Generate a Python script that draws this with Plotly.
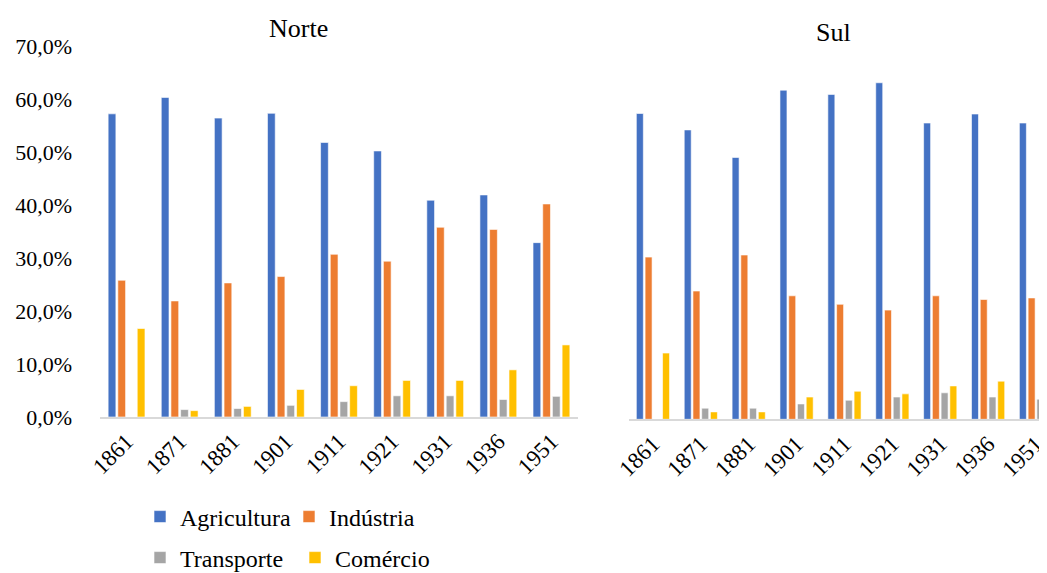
import plotly.graph_objects as go

anos = ["1861", "1871", "1881", "1901", "1911", "1921", "1931", "1936", "1951"]

norte_agricultura = [57.2, 60.3, 56.4, 57.3, 51.8, 50.2, 40.9, 41.9, 32.9]
norte_industria = [25.8, 21.9, 25.3, 26.5, 30.7, 29.4, 35.8, 35.4, 40.2]
norte_transporte = [None, 1.4, 1.6, 2.2, 2.9, 4.0, 4.0, 3.3, 3.9]
norte_comercio = [16.7, 1.2, 2.0, 5.2, 5.9, 6.9, 6.9, 8.9, 13.6]

sul_agricultura = [57.7, 54.6, 49.4, 62.1, 61.3, 63.5, 55.9, 57.6, 55.9]
sul_industria = [30.6, 24.2, 31.0, 23.3, 21.7, 20.6, 23.3, 22.6, 22.9]
sul_transporte = [None, 2.1, 2.1, 2.9, 3.6, 4.2, 5.0, 4.2, 3.8]
sul_comercio = [12.5, 1.4, 1.4, 4.2, 5.3, 4.8, 6.3, 7.2, 9.9]

series = ["Agricultura", "Indústria", "Transporte", "Comércio"]
cores = ["#4472C4", "#ED7D31", "#A5A5A5", "#FFC000"]

OFF = 8          # page body margin offset
W, H = 1047 - OFF, 573 - OFF
L = 100 - OFF


def px2x(p):
    return (p - OFF - L) / (W - L)


def py2y(p):
    return (H - (p - OFF)) / H


fig = go.Figure()
norte = [norte_agricultura, norte_industria, norte_transporte, norte_comercio]
sul = [sul_agricultura, sul_industria, sul_transporte, sul_comercio]
for i, nome in enumerate(series):
    leg = "legend" if i < 2 else "legend2"
    fig.add_trace(go.Bar(x=anos, y=norte[i], name=nome, marker_color=cores[i],
                         marker_line_color="rgba(255,255,255,0.6)", marker_line_width=1,
                         xaxis="x", yaxis="y", legend=leg, showlegend=True))
for i, nome in enumerate(series):
    fig.add_trace(go.Bar(x=anos, y=sul[i], name=nome, marker_color=cores[i],
                         marker_line_color="rgba(255,255,255,0.6)", marker_line_width=1,
                         xaxis="x2", yaxis="y2", showlegend=False))

FAM = "Liberation Serif"
f_tick_y = dict(family=FAM, size=22, color="black")
f_tick_x = dict(family=FAM, size=23, color="black")
f_title = dict(family=FAM, size=26, color="black")
f_leg = dict(family=FAM, size=24, color="black")

fig.update_layout(
    width=W, height=H,
    margin=dict(l=L, r=0, t=0, b=0, autoexpand=False),
    paper_bgcolor="white", plot_bgcolor="white",
    barmode="group", bargap=0.27, bargroupgap=0.2,
    separators=",.",
    font=dict(family=FAM, size=20, color="black"),
    xaxis=dict(domain=[px2x(100), px2x(578)], anchor="y", type="category",
               range=[-0.5, 8.5], showline=True, linecolor="#d9d9d9", linewidth=2,
               ticks="", tickangle=-45, tickfont=f_tick_x, automargin=False, showgrid=False),
    yaxis=dict(domain=[py2y(417), py2y(46)], range=[0, 70], dtick=10,
               tickformat=".1f", ticksuffix="%", showgrid=False, zeroline=False,
               showline=False, ticklabelstandoff=27, tickfont=f_tick_y, automargin=False),
    xaxis2=dict(domain=[px2x(629), 1], anchor="y2", type="category",
                range=[-0.5, 8.23], showline=True, linecolor="#d9d9d9", linewidth=2,
                ticks="", tickangle=-45, tickfont=f_tick_x, automargin=False, showgrid=False),
    yaxis2=dict(domain=[py2y(419.3), py2y(48.3)], range=[0, 70],
                showticklabels=False, showgrid=False, zeroline=False, showline=False,
                automargin=False),
    legend=dict(orientation="h", x=px2x(140), y=py2y(517), xanchor="left",
                yanchor="middle", entrywidth=104, entrywidthmode="pixels",
                font=f_leg, bgcolor="rgba(0,0,0,0)"),
    legend2=dict(orientation="h", x=px2x(140), y=py2y(558), xanchor="left",
                 yanchor="middle", entrywidth=110, entrywidthmode="pixels",
                 font=f_leg, bgcolor="rgba(0,0,0,0)"),
    annotations=[
        dict(text="Norte", x=px2x(298), y=py2y(28), xref="paper", yref="paper",
             showarrow=False, font=f_title, xanchor="center", yanchor="middle"),
        dict(text="Sul", x=px2x(833), y=py2y(33), xref="paper", yref="paper",
             showarrow=False, font=f_title, xanchor="center", yanchor="middle"),
    ],
)

fig.write_html("out.html")
